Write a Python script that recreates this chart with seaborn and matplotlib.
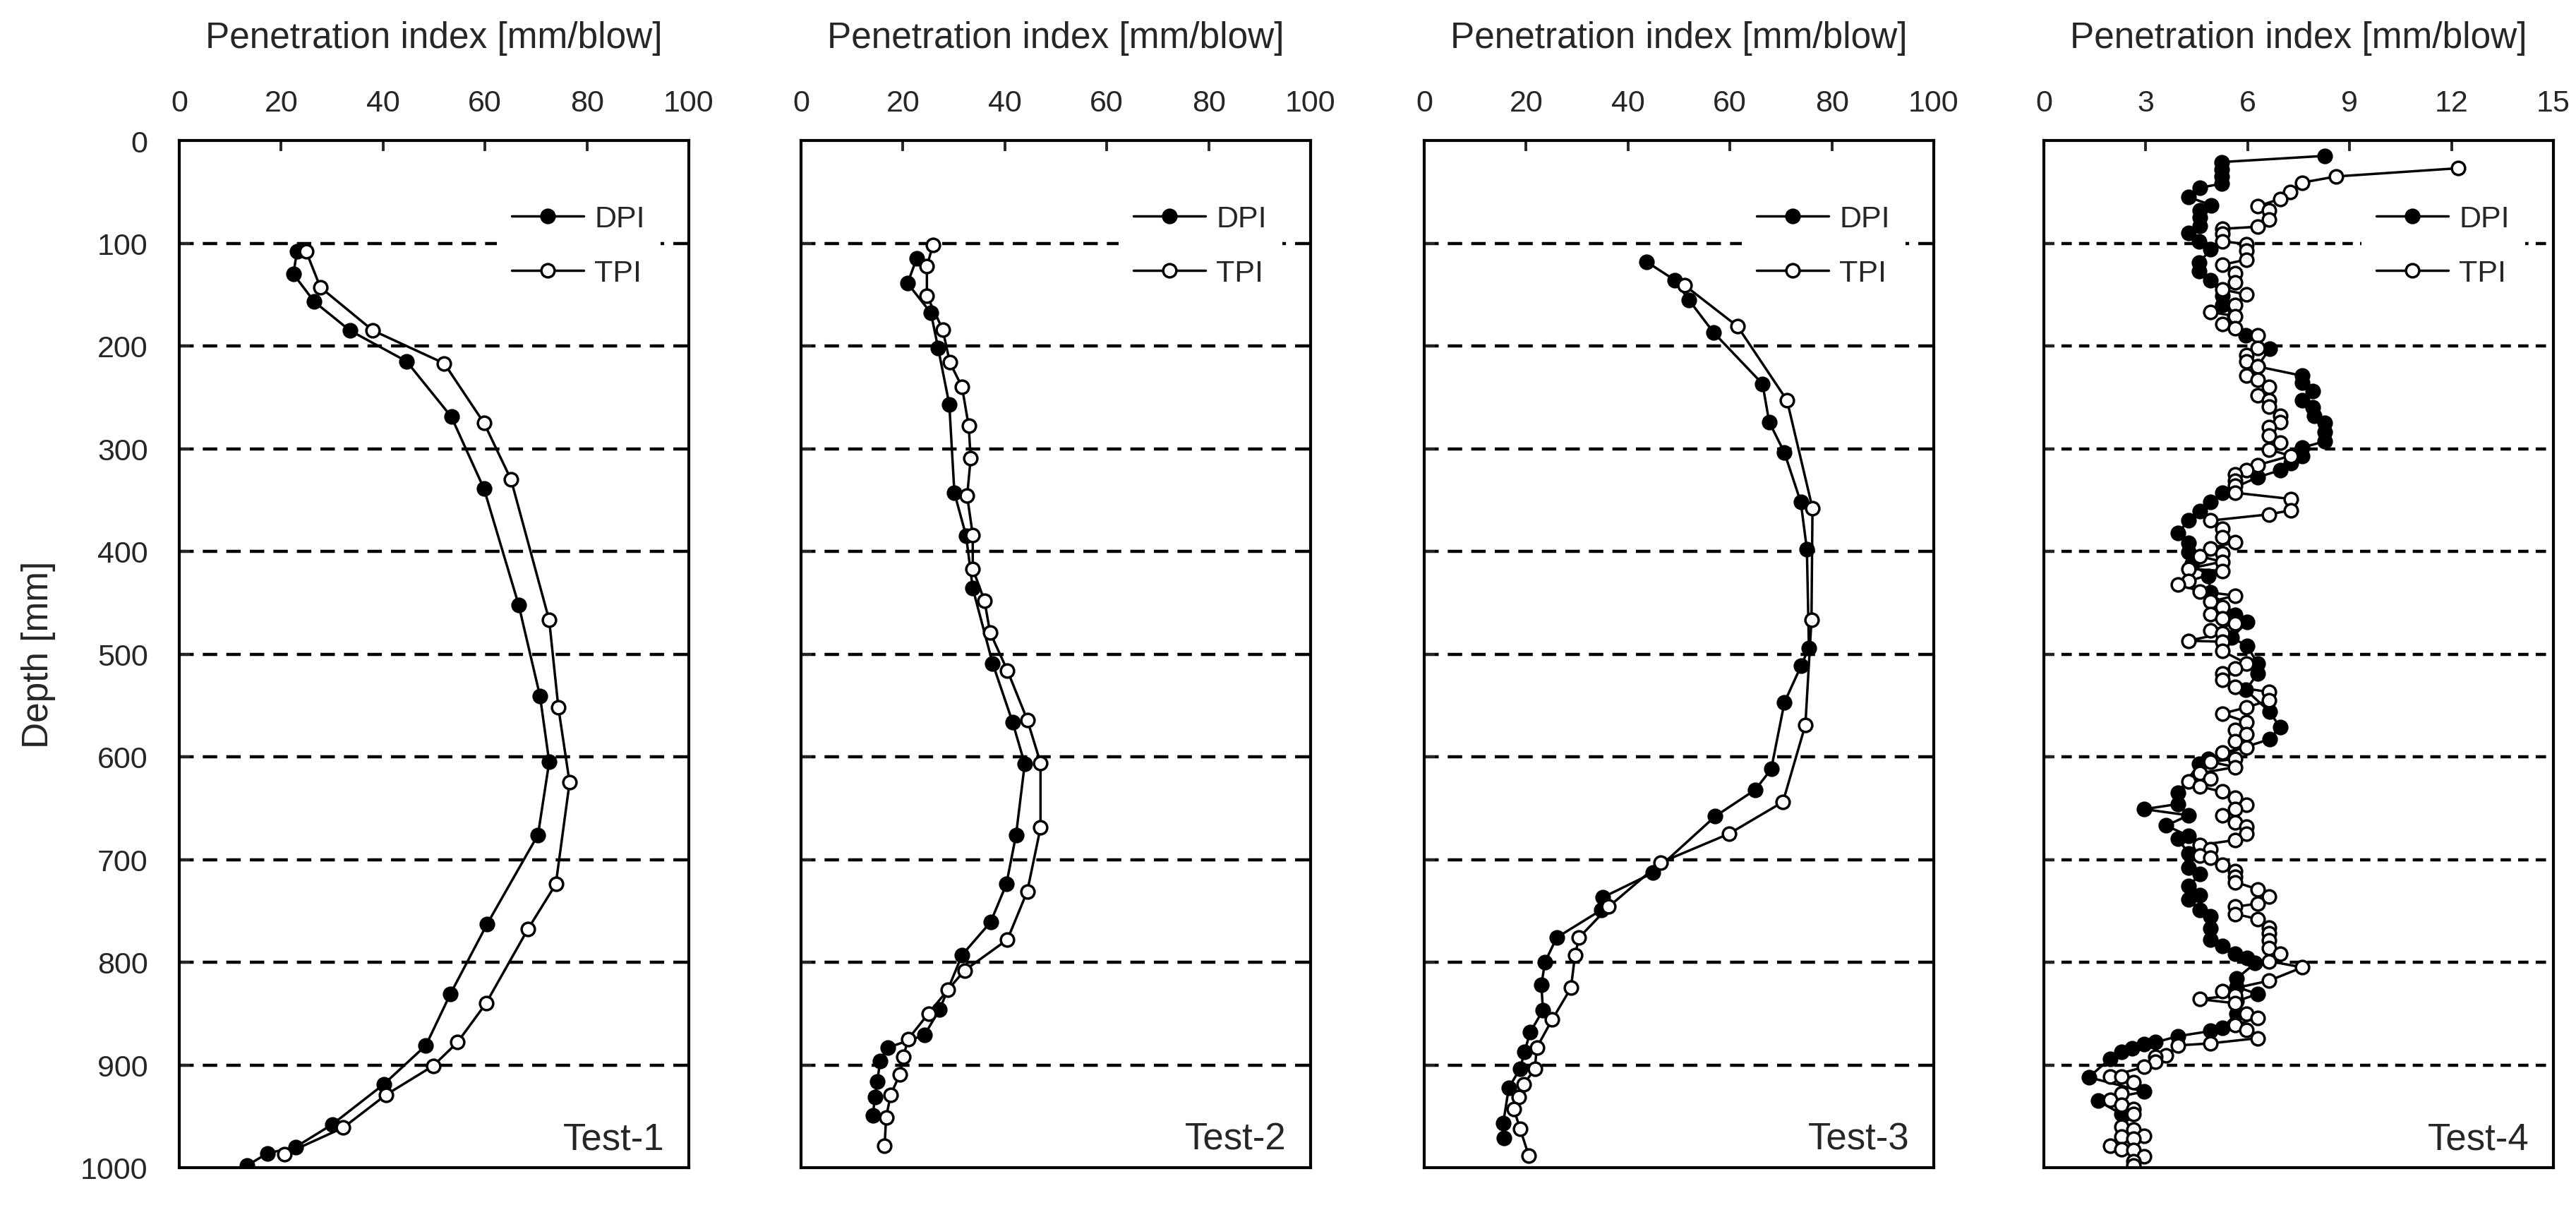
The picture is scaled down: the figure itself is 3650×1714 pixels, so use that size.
import matplotlib
matplotlib.use("Agg")
import matplotlib.pyplot as plt
import pandas as pd
import seaborn as sns

# ---------------- data ----------------
depth_ticks = [0, 100, 200, 300, 400, 500, 600, 700, 800, 900, 1000]
pi_ticks_a = [0, 20, 40, 60, 80, 100]
pi_ticks_b = [0, 3, 6, 9, 12, 15]
panel_names = ["Test-1", "Test-2", "Test-3", "Test-4"]

t1_dpi_x = [23.1, 22.4, 26.5, 33.5, 44.6, 53.4, 59.8, 66.6, 70.8, 72.6, 70.4, 60.4, 53.2, 48.4, 40.1, 30.0, 22.8, 17.3, 13.3]
t1_dpi_d = [108, 130, 157, 185, 215, 269, 339, 452, 541, 605, 676, 763, 831, 881, 919, 958, 980, 986, 998]
t1_tpi_x = [24.9, 27.7, 38.0, 52.0, 59.8, 65.1, 72.6, 74.4, 76.6, 73.9, 68.4, 60.2, 54.6, 49.8, 40.6, 32.2, 20.7]
t1_tpi_d = [108, 143, 185, 217, 275, 330, 467, 552, 625, 724, 768, 840, 878, 901, 929, 961, 987]

t2_dpi_x = [22.7, 20.9, 25.5, 26.9, 29.1, 30.1, 32.4, 33.7, 37.6, 41.5, 43.9, 42.2, 40.3, 37.2, 31.6, 27.2, 24.2, 17.1, 15.5, 15.0, 14.5, 14.1]
t2_dpi_d = [115, 139, 168, 202, 257, 343, 385, 436, 509, 566, 607, 676, 724, 761, 793, 846, 871, 883, 896, 916, 931, 949]
t2_tpi_x = [25.9, 24.7, 24.7, 27.8, 29.2, 31.6, 32.9, 33.3, 32.6, 33.7, 33.7, 36.0, 37.1, 40.5, 44.4, 47.0, 47.0, 44.4, 40.5, 32.1, 28.8, 25.0, 21.0, 20.1, 19.4, 17.6, 16.7, 16.4]
t2_tpi_d = [102, 122, 151, 184, 216, 240, 278, 309, 346, 384, 417, 448, 479, 516, 564, 606, 669, 731, 778, 808, 827, 850, 875, 892, 909, 929, 951, 979]

t3_dpi_x = [43.6, 49.2, 51.9, 56.8, 66.4, 67.7, 70.7, 73.9, 75.1, 75.5, 74.0, 70.7, 68.1, 65.0, 57.1, 44.9, 35.0, 34.8, 26.0, 23.7, 23.0, 23.3, 20.8, 19.7, 18.8, 16.6, 15.5, 15.7]
t3_dpi_d = [118, 136, 155, 187, 237, 274, 304, 352, 398, 494, 511, 547, 612, 632, 658, 713, 737, 749, 776, 800, 822, 847, 868, 887, 904, 922, 957, 971]
t3_tpi_x = [51.1, 61.5, 71.2, 76.2, 76.0, 74.8, 70.4, 59.8, 46.4, 36.2, 30.4, 29.6, 28.8, 25.1, 22.1, 21.7, 19.5, 18.5, 17.6, 18.8, 20.5]
t3_tpi_d = [141, 181, 253, 358, 467, 569, 644, 675, 703, 746, 776, 793, 825, 856, 883, 904, 919, 931, 943, 962, 988]

t4_dpi_x = [8.26, 5.24, 5.24, 5.24, 5.24, 4.60, 4.26, 4.93, 4.60, 4.60, 4.60, 4.26, 4.57, 4.91, 4.57, 4.57, 4.91,
            5.26, 5.26, 5.60, 5.95, 6.64, 6.29, 7.60, 7.60, 7.92, 7.60, 7.92, 7.95, 8.26, 8.26, 8.26, 7.60, 7.60,
            7.27, 6.95, 6.29, 5.25, 4.91, 4.60, 4.26, 3.95, 4.26, 4.26, 4.36, 4.84, 4.91, 5.64, 5.98, 5.53, 5.98,
            6.29, 6.29, 5.95, 6.64, 6.95, 6.64, 4.84, 4.57, 3.95, 3.95, 2.95, 4.26, 3.60, 4.26, 3.95, 4.26, 4.26,
            4.60, 4.26, 4.60, 4.26, 4.60, 4.91, 4.91, 4.91, 5.26, 5.64, 5.98, 6.22, 5.67, 5.67, 6.29, 5.67, 5.67,
            5.26, 4.91, 3.95, 3.29, 2.95, 2.60, 2.29, 1.95, 1.32, 2.95, 1.60, 2.29]
t4_dpi_d = [15, 21, 28, 35, 42, 46, 55, 63, 68, 75, 83, 90, 98, 106, 119, 127, 136,
            151, 160, 171, 190, 203, 220, 229, 236, 244, 253, 260, 268, 275, 284, 293, 299, 307,
            314, 321, 328, 343, 352, 361, 370, 382, 392, 401, 412, 424, 440, 462, 469, 484, 492,
            509, 519, 535, 556, 571, 583, 602, 607, 635, 646, 651, 657, 667, 677, 680, 694, 708,
            714, 726, 735, 739, 749, 755, 767, 778, 784, 792, 796, 801, 816, 824, 831, 838, 850,
            864, 867, 872, 878, 880, 884, 887, 894, 912, 926, 935, 948]

t4_tpi_x = [12.2, 8.61, 7.60, 7.26, 6.95, 6.29, 6.63, 6.63, 6.29, 5.25, 5.25, 5.25, 5.96, 5.96, 5.96, 5.25, 5.64,
            5.64, 5.25, 5.96, 5.64, 4.91, 5.64, 5.25, 5.64, 6.29, 6.29, 5.96, 5.96, 6.29, 5.96, 6.29, 6.63, 6.29,
            6.63, 6.63, 6.95, 6.95, 6.63, 6.63, 6.95, 6.63, 7.27, 6.29, 5.96, 5.64, 5.64, 5.64, 5.64, 7.27, 7.27,
            6.63, 4.91, 5.25, 5.25, 5.64, 4.91, 5.25, 4.60, 5.25, 4.26, 5.25, 4.26, 3.95, 4.60, 5.64, 4.91, 5.25,
            4.91, 5.25, 5.64, 4.91, 5.25, 4.26, 5.25, 5.25, 5.96, 5.64, 5.25, 5.25, 5.64, 6.63, 6.63, 5.96, 5.25,
            5.96, 5.64, 5.96, 5.64, 5.96, 5.25, 5.64, 4.91, 5.64, 4.60, 4.91, 4.26, 4.60, 5.25, 5.64, 5.96, 5.64,
            5.25, 5.64, 5.96, 5.96, 5.64, 4.60, 4.91, 4.60, 4.91, 5.25, 5.64, 5.64, 5.64, 6.29, 6.63, 6.29, 5.64,
            5.64, 6.29, 6.63, 6.63, 6.63, 6.63, 6.95, 6.63, 7.61, 6.63, 5.25, 5.64, 4.60, 5.64, 5.96, 6.29, 5.64,
            5.96, 6.29, 4.91, 3.95, 3.60, 3.29, 3.29, 2.95, 1.95, 2.29, 2.64, 2.29, 1.95, 2.29, 2.64, 2.64, 2.29,
            2.64, 2.95, 2.29, 2.64, 1.95, 2.29, 2.64, 2.95, 2.64, 2.64]
t4_tpi_d = [27, 35, 41, 50, 57, 64, 68, 77, 84, 86, 91, 98, 101, 107, 116, 121, 129,
            138, 145, 150, 160, 167, 171, 179, 183, 190, 202, 209, 215, 220, 229, 233, 240, 248,
            253, 259, 268, 274, 279, 287, 294, 301, 307, 316, 321, 325, 331, 336, 343, 349, 360,
            364, 370, 378, 386, 391, 397, 402, 405, 410, 417, 419, 429, 432, 439, 443, 449, 454,
            461, 465, 470, 477, 480, 487, 488, 497, 509, 514, 519, 525, 532, 537, 545, 552, 558,
            566, 574, 578, 585, 591, 596, 602, 605, 610, 616, 621, 624, 629, 634, 640, 647, 651,
            657, 664, 668, 675, 681, 686, 690, 696, 698, 705, 711, 717, 722, 729, 736, 743, 746,
            753, 758, 766, 772, 779, 786, 792, 799, 805, 818, 828, 832, 836, 840, 850, 854, 861,
            866, 874, 879, 881, 891, 892, 897, 902, 911, 911, 917, 928, 934, 939, 943, 948, 960,
            963, 969, 970, 972, 979, 982, 983, 989, 994, 998]

series = [
    (t1_dpi_x, t1_dpi_d, t1_tpi_x, t1_tpi_d),
    (t2_dpi_x, t2_dpi_d, t2_tpi_x, t2_tpi_d),
    (t3_dpi_x, t3_dpi_d, t3_tpi_x, t3_tpi_d),
    (t4_dpi_x, t4_dpi_d, t4_tpi_x, t4_tpi_d),
]

# ---------------- styling ----------------
sns.set_style("white")
plt.rcParams["font.family"] = ["Liberation Sans", "DejaVu Sans"]

W, H = 3650, 1715
fig = plt.figure(figsize=(W / 100, H / 100), dpi=100)

ax_left_px = [254, 1135, 2018, 2896]
ax_w_px = 722
ax_top_px, ax_bot_px = 200, 1655

TICK_FS = 31
LABEL_FS = 37
LEG_FS = 31
NAME_FS = 38

for i, (dx, dd, tx, td) in enumerate(series):
    ax = fig.add_axes([ax_left_px[i] / W, 1 - ax_bot_px / H,
                       ax_w_px / W, (ax_bot_px - ax_top_px) / H])
    df_d = pd.DataFrame({"pi": dx, "depth": dd})
    df_t = pd.DataFrame({"pi": tx, "depth": td})
    common = dict(sort=False, estimator=None, color="black", linewidth=2.5,
                  marker="o", markersize=13.5, markeredgecolor="black",
                  markeredgewidth=2.5, ax=ax)
    sns.lineplot(data=df_d, x="pi", y="depth", markerfacecolor="black",
                 label="DPI", **common)
    sns.lineplot(data=df_t, x="pi", y="depth", markerfacecolor="white",
                 label="TPI", **common)

    ticks = pi_ticks_b if i == 3 else pi_ticks_a
    ax.set_xlim(ticks[0], ticks[-1])
    ax.set_xticks(ticks)
    ax.set_ylim(1000, 0)
    ax.set_yticks(depth_ticks)

    ax.xaxis.tick_top()
    ax.xaxis.set_label_position("top")
    ax.tick_params(axis="x", direction="in", length=11, width=2.8,
                   labelsize=TICK_FS, pad=24, top=True, bottom=False)
    ax.tick_params(axis="y", direction="in", length=11, width=2.8,
                   labelsize=TICK_FS, pad=32, left=True, right=False,
                   labelleft=(i == 0))
    ax.set_xlabel("Penetration index [mm/blow]", fontsize=LABEL_FS, labelpad=42)
    if i == 0:
        ax.set_ylabel("Depth [mm]", fontsize=LABEL_FS, labelpad=25)
    else:
        ax.set_ylabel("")

    for s in ax.spines.values():
        s.set_visible(True)
        s.set_color("black")
        s.set_linewidth(3.0)

    dash = (0, (3.3, 2.3)) if i == 3 else (0, (4.6, 2.9))
    ax.set_axisbelow(True)
    ax.grid(axis="y", color="black", linewidth=3.2, linestyle=dash)
    ax.grid(axis="x", visible=False)
    gl = ax.get_ygridlines()
    gl[0].set_visible(False)
    gl[-1].set_visible(False)

    leg = ax.legend(loc="upper left", bbox_to_anchor=(0.623, 0.952),
                    borderaxespad=0, fontsize=LEG_FS, frameon=True,
                    fancybox=False, framealpha=1, facecolor="white",
                    edgecolor="none", handlelength=2.37, handletextpad=0.35,
                    labelspacing=0.85, borderpad=0.5, numpoints=1)

    ax.text(0.952, 0.018, panel_names[i], transform=ax.transAxes,
            ha="right", va="baseline", fontsize=NAME_FS)

fig.savefig("out.png", dpi=100, facecolor="white")
